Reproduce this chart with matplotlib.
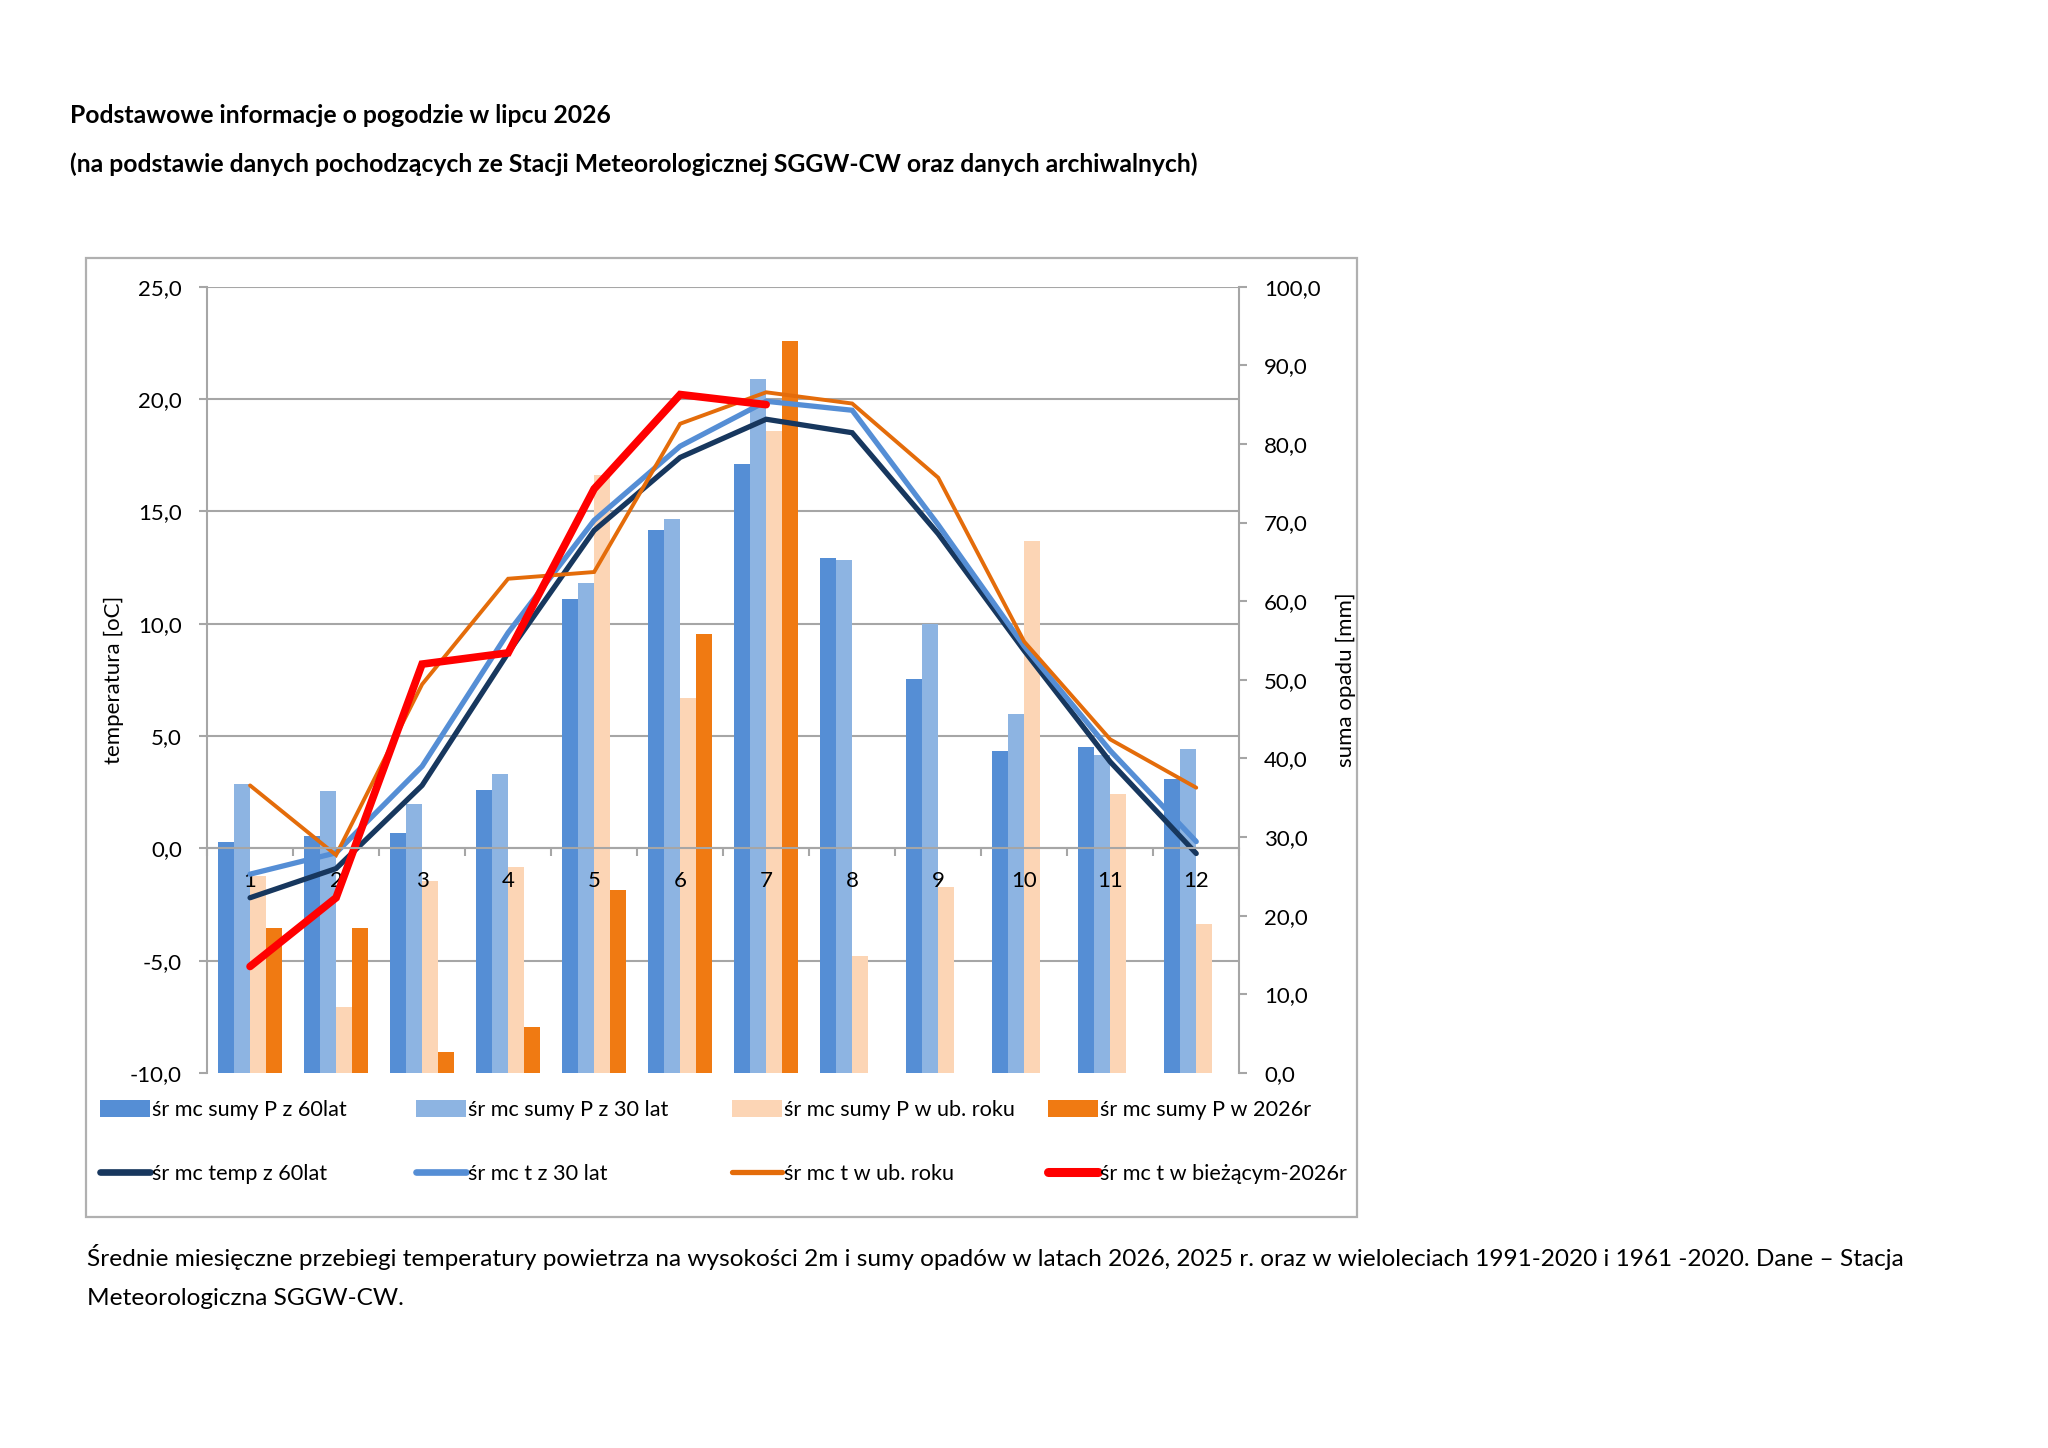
import numpy as np
import matplotlib
matplotlib.use('Agg')
import matplotlib.pyplot as plt
from matplotlib.patches import Rectangle
from matplotlib.lines import Line2D
from matplotlib.ticker import FuncFormatter

plt.rcParams['font.family'] = ['Lato', 'DejaVu Sans']

months = [1, 2, 3, 4, 5, 6, 7, 8, 9, 10, 11, 12]
nan = np.nan

# opady [mm] - os prawa
p_60lat = [29.4, 30.2, 30.5, 36.0, 60.3, 69.1, 77.4, 65.5, 50.1, 40.9, 41.4, 37.4]
p_30lat = [36.7, 35.9, 34.2, 38.0, 62.3, 70.4, 88.2, 65.2, 57.1, 45.7, 40.5, 41.2]
p_ub_roku = [25.0, 8.4, 24.4, 26.2, 76.1, 47.7, 81.6, 14.9, 23.7, 67.7, 35.5, 18.9]
p_2026 = [18.4, 18.5, 2.7, 5.8, 23.3, 55.8, 93.1, nan, nan, nan, nan, nan]

# temperatura [oC] - os lewa
t_60lat = [-2.2, -0.9, 2.8, 8.7, 14.15, 17.4, 19.1, 18.5, 14.0, 8.8, 3.85, -0.23]
t_30lat = [-1.15, -0.2, 3.65, 9.6, 14.6, 17.9, 19.9, 19.5, 14.4, 9.0, 4.35, 0.3]
t_ub_roku = [2.8, -0.3, 7.3, 12.0, 12.3, 18.9, 20.3, 19.8, 16.5, 9.2, 4.85, 2.7]
t_2026 = [-5.26, -2.2, 8.2, 8.7, 16.0, 20.2, 19.75, nan, nan, nan, nan, nan]

t_ticks = [-10, -5, 0, 5, 10, 15, 20, 25]
p_ticks = [0, 10, 20, 30, 40, 50, 60, 70, 80, 90, 100]

bar_labels = ['śr mc sumy P z 60lat', 'śr mc sumy P z 30 lat',
              'śr mc sumy P w ub. roku', 'śr mc sumy P w 2026r']
line_labels = ['śr mc temp z 60lat', 'śr mc t z 30 lat',
               'śr mc t w ub. roku', 'śr mc t w bieżącym-2026r']

bar_colors = ['#558ED5', '#8DB4E2', '#FCD5B5', '#F07A12']
line_colors = ['#17375E', '#558ED5', '#E46C0A', '#FF0000']
line_widths = [3.8, 3.8, 2.8, 5.5]

GRID = '#A6A6A6'

fig = plt.figure(figsize=(20.48, 14.48), dpi=100)

fig.text(0.034, 0.915, 'Podstawowe informacje o pogodzie w lipcu 2026',
         fontsize=17.8, fontweight='bold', va='baseline')
fig.text(0.034, 0.881, '(na podstawie danych pochodzących ze Stacji Meteorologicznej '
         'SGGW-CW oraz danych archiwalnych)',
         fontsize=17.8, fontweight='bold', va='baseline')

fig.patches.append(Rectangle((0.042, 0.1595), 0.6205, 0.662, transform=fig.transFigure,
                             fill=False, edgecolor='#B0B0B0', linewidth=1.6))

ax_t = fig.add_axes([0.1011, 0.259, 0.504, 0.543])
ax_p = ax_t.twinx()
ax_p.set_zorder(1)
ax_t.set_zorder(2)
ax_t.patch.set_visible(False)

# slupki opadow
x = np.array(months, dtype=float)
w = 0.185
series_p = [p_60lat, p_30lat, p_ub_roku, p_2026]
for i, (vals, col) in enumerate(zip(series_p, bar_colors)):
    ax_p.bar(x + (i - 1.5) * w, vals, width=w, color=col, zorder=3)
ax_p.set_ylim(0, 100)
ax_p.set_yticks(p_ticks)
ax_p.yaxis.set_major_formatter(FuncFormatter(lambda v, _: f'{v:.1f}'.replace('.', ',')))
ax_p.tick_params(axis='y', labelsize=16, length=6, width=1.5, color=GRID, pad=12)
ax_p.set_ylabel('suma opadu [mm]', fontsize=16, rotation=90, va='center', ha='center')
ax_p.yaxis.set_label_coords(1.103, 0.5)

# linie siatki wg osi temperatury
t_min, t_max = -10, 25
for t in t_ticks[1:]:
    ax_p.axhline((t - t_min) / (t_max - t_min) * 100, color=GRID, lw=1.5, zorder=1)

# linie temperatury
series_t = [t_60lat, t_30lat, t_ub_roku, t_2026]
for vals, col, lw in zip(series_t, line_colors, line_widths):
    ax_t.plot(x, vals, color=col, lw=lw, solid_capstyle='round', solid_joinstyle='miter')
ax_t.set_ylim(t_min, t_max)
ax_t.set_yticks(t_ticks)
ax_t.yaxis.set_major_formatter(FuncFormatter(lambda v, _: f'{v:.1f}'.replace('.', ',')))
ax_t.tick_params(axis='y', labelsize=16, length=6, width=1.5, color=GRID, pad=12)
ax_t.set_ylabel('temperatura [oC]', fontsize=16, rotation=90, va='center', ha='center')
ax_t.yaxis.set_label_coords(-0.090, 0.5)

ax_t.set_xlim(0.5, 12.5)
ax_t.set_xticks(months)
ax_t.set_xticklabels([str(m) for m in months])
ax_t.set_xticks(np.arange(0.5, 13.0, 1.0), minor=True)
ax_t.tick_params(axis='x', which='major', length=0, labelsize=16, pad=16)
ax_t.tick_params(axis='x', which='minor', length=6, width=1.5, color=GRID, direction='out')
ax_t.spines['bottom'].set_position(('data', 0))

for a in (ax_t, ax_p):
    for s in a.spines.values():
        s.set_color(GRID)
        s.set_linewidth(1.5)
    a.spines['top'].set_visible(False)
ax_p.spines['bottom'].set_visible(False)
ax_t.spines['right'].set_visible(False)
ax_p.spines['left'].set_visible(False)

# legenda: 4 kolumny, 2 wiersze
col_x = [0.0490, 0.2030, 0.3575, 0.5118]
for i in range(4):
    hb = Rectangle((0, 0), 1, 1, facecolor=bar_colors[i], edgecolor='none')
    hl = Line2D([0], [0], color=line_colors[i], lw=line_widths[i] + 1,
                solid_capstyle='round')
    fig.legend([hb, hl], [bar_labels[i], line_labels[i]],
               loc='upper left', bbox_to_anchor=(col_x[i], 0.2405),
               frameon=False, fontsize=15.6, handlelength=2.3, handleheight=0.8,
               handletextpad=0.1, labelspacing=2.05, borderaxespad=0, borderpad=0)

fig.text(0.0425, 0.126, 'Średnie miesięczne przebiegi temperatury powietrza na wysokości 2m '
         'i sumy opadów w latach 2026, 2025 r. oraz w wieloleciach 1991-2020 i 1961 -2020. '
         'Dane – Stacja', fontsize=17.6, va='baseline')
fig.text(0.0425, 0.0985, 'Meteorologiczna SGGW-CW.', fontsize=17.6, va='baseline')

fig.savefig('out.png', dpi=100)
